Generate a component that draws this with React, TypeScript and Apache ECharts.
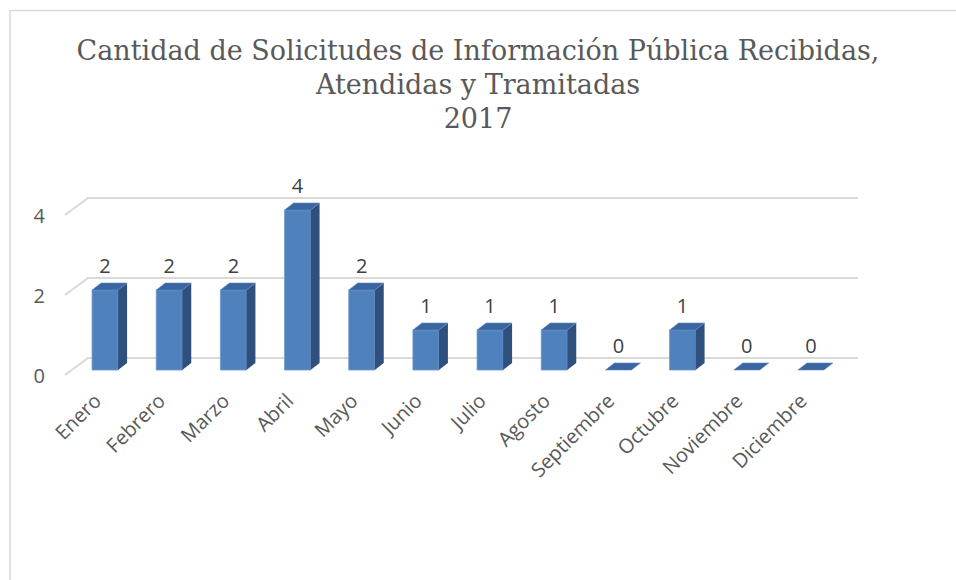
import React, { useEffect, useRef } from "react";
import * as echarts from "echarts";

const categories = [
  "Enero", "Febrero", "Marzo", "Abril", "Mayo", "Junio",
  "Julio", "Agosto", "Septiembre", "Octubre", "Noviembre", "Diciembre",
];
const values = [2, 2, 2, 4, 2, 1, 1, 1, 0, 1, 0, 0];
const yTicks = [0, 2, 4];
const titleLines = [
  "Cantidad de Solicitudes de Información Pública Recibidas,",
  "Atendidas y Tramitadas",
  "2017",
];

const DEPTH_X = 23;
const DEPTH_Y = -17;

export default function App() {
  const ref = useRef<HTMLDivElement>(null);
  useEffect(() => {
    document.body.style.margin = "0";
    const chart = echarts.init(ref.current!, null, { renderer: "svg" });
    const option: any = {
      animation: false,
      backgroundColor: "#ffffff",
      graphic: [
        {
          type: "polyline",
          shape: { points: [[10, 600], [10, 10.5], [1000, 10.5]] },
          style: { stroke: "#d9d9d9", lineWidth: 1.5, fill: "none" },
          silent: true,
        },
        {
          type: "text",
          x: 478,
          y: 33,
          silent: true,
          style: {
            text: titleLines.join("\n"),
            align: "center",
            verticalAlign: "top",
            fontFamily: "DejaVu Serif",
            fontSize: 27,
            lineHeight: 34,
            fill: "#595959",
          },
        },
      ],
      grid: { left: 65, right: 121, top: 215, bottom: 205 },
      xAxis: {
        type: "category",
        data: categories,
        boundaryGap: true,
        axisLine: { show: false },
        axisTick: { show: false },
        axisLabel: {
          rotate: 45,
          margin: 22,
          interval: 0,
          fontFamily: "Open Sans",
          fontSize: 20,
          color: "#595959",
        },
      },
      yAxis: {
        type: "value",
        min: 0,
        max: 4,
        interval: 2,
        splitLine: { show: false },
        axisLine: { show: false },
        axisTick: { show: false },
        axisLabel: {
          margin: 20,
          fontFamily: "Open Sans",
          fontSize: 20,
          color: "#595959",
          verticalAlign: "middle",
        },
      },
      series: [
        {
          type: "custom",
          z: 1,
          silent: true,
          data: yTicks.map((t) => [0, t]),
          renderItem: (params: any, api: any) => {
            const cs = params.coordSys;
            const p = api.coord([0, api.value(1)]);
            const y = p[1];
            const x0 = cs.x;
            const x1 = cs.x + cs.width;
            return {
              type: "polyline",
              shape: {
                points: [
                  [x0, y],
                  [x0 + DEPTH_X, y + DEPTH_Y],
                  [x1 + DEPTH_X, y + DEPTH_Y],
                ],
              },
              style: { stroke: "#d9d9d9", lineWidth: 2, fill: "none" },
            };
          },
        },
        {
          type: "custom",
          z: 2,
          silent: true,
          data: values.map((v, i) => [i, v]),
          renderItem: (params: any, api: any) => {
            const idx = api.value(0);
            const v = api.value(1);
            const p0 = api.coord([idx, 0]);
            const p1 = api.coord([idx, v]);
            const L = p0[0] - 5;
            const W = 26;
            const R = L + W;
            const bottom = p0[1] - 5;
            const top = p1[1] - 5;
            const dx = 9;
            const dy = -7;
            const children: any[] = [];
            if (v > 0) {
              children.push({
                type: "rect",
                shape: { x: L, y: top, width: W, height: bottom - top },
                style: { fill: "#4f81bd", stroke: "#6d97cc", lineWidth: 0.8 },
              });
              children.push({
                type: "polygon",
                shape: {
                  points: [
                    [R, bottom],
                    [R + dx, bottom + dy],
                    [R + dx, top + dy],
                    [R, top],
                  ],
                },
                style: { fill: "#2f4f7c" },
              });
            }
            children.push({
              type: "polygon",
              shape: {
                points: [
                  [L, top],
                  [R, top],
                  [R + dx, top + dy],
                  [L + dx, top + dy],
                ],
              },
              style: { fill: "#3a65a0", stroke: "#5e8ac2", lineWidth: 0.6 },
            });
            children.push({
              type: "text",
              style: {
                text: String(v),
                x: L + W / 2,
                y: top - 25,
                align: "center",
                verticalAlign: "middle",
                fontFamily: "Open Sans",
                fontSize: 20,
                fill: "#404040",
              },
            });
            return { type: "group", children };
          },
        },
      ],
    };
    chart.setOption(option);
    return () => chart.dispose();
  }, []);
  return <div ref={ref} style={{ width: 956, height: 580 }} />;
}
